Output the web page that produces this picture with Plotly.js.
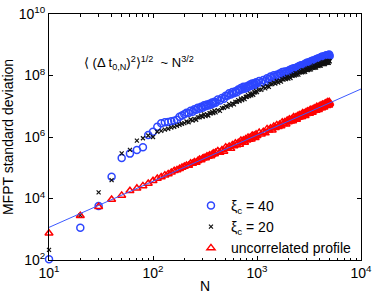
<!DOCTYPE html>
<html>
<head>
<meta charset="utf-8">
<script src="https://cdn.plot.ly/plotly-3.0.1.min.js"></script>
<style>
html,body{margin:0;padding:0;background:#fff;}
#chart{width:374px;height:294px;}
</style>
</head>
<body>
<div id="chart"></div>
<script>
// Chain length N (shared by all three series)
const N = [10,20,30,40,50,60,70,80,90,100,110,120,130,140,150,160,170,180,190,200,
  210,220,230,240,250,260,270,280,290,300,310,320,330,340,350,360,370,380,390,400,
  420,440,460,480,500,520,540,560,580,600,620,640,660,680,700,720,740,760,780,800,
  820,840,860,880,900,920,940,960,980,1000,
  1050,1100,1150,1200,1250,1300,1350,1400,1450,1500,
  1550,1600,1650,1700,1750,1800,1850,1900,1950,2000,
  2050,2100,2150,2200,2250,2300,2350,2400,2450,2500,
  2550,2600,2650,2700,2750,2800,2850,2900,2950,3000,
  3050,3100,3150,3200,3250,3300,3350,3400,3450,3500,
  3550,3600,3650,3700,3750,3800,3850,3900,3950,4000,
  4050,4100,4150,4200,4250,4300,4350,4400,4450,4500,
  4550,4600,4650,4700,4750,4800,4850,4900,4950,5000];

// MFPT standard deviation, xi_c = 40
const sd_xi40 = [1.05e2,1.12e3,5.75e3,5.13e4,2.09e5,2.88e5,3.80e5,4.68e5,1.17e6,1.48e6,
  2.14e6,2.82e6,3.02e6,3.09e6,3.24e6,3.39e6,3.63e6,4.57e6,5.01e6,5.50e6,
  6.17e6,6.03e6,7.16e6,6.61e6,7.94e6,7.76e6,9.02e6,8.32e6,9.55e6,8.91e6,
  1.07e7,1.00e7,1.15e7,1.05e7,1.20e7,1.12e7,1.33e7,1.23e7,1.40e7,1.29e7,
  1.66e7,1.53e7,1.86e7,1.74e7,2.21e7,2.19e7,2.63e7,2.43e7,2.92e7,2.63e7,
  3.09e7,2.85e7,3.51e7,3.31e7,3.89e7,3.55e7,4.27e7,3.72e7,4.32e7,3.89e7,
  4.68e7,4.42e7,5.07e7,4.62e7,5.50e7,4.79e7,5.56e7,4.95e7,6.03e7,5.62e7,
  6.68e7,5.96e7,7.08e7,6.53e7,8.13e7,7.76e7,9.23e7,8.51e7,1.02e8,9.12e7,
  1.06e8,9.55e7,1.17e8,1.12e8,1.29e8,1.15e8,1.36e8,1.20e8,1.38e8,1.23e8,
  1.50e8,1.41e8,1.62e8,1.45e8,1.72e8,1.51e8,1.74e8,1.55e8,1.88e8,1.78e8,
  2.04e8,1.82e8,2.14e8,1.86e8,2.16e8,1.95e8,2.34e8,2.19e8,2.51e8,2.24e8,
  2.63e8,2.29e8,2.63e8,2.34e8,2.79e8,2.57e8,2.95e8,2.63e8,3.09e8,2.69e8,
  3.05e8,2.69e8,3.24e8,3.02e8,3.47e8,3.09e8,3.59e8,3.09e8,3.55e8,3.16e8,
  3.76e8,3.47e8,3.98e8,3.55e8,4.12e8,3.55e8,4.03e8,3.55e8,4.22e8,3.89e8,
  4.42e8,3.89e8,4.52e8,3.89e8,4.42e8,3.89e8,4.62e8,4.27e8,4.84e8,4.27e8];

// MFPT standard deviation, xi_c = 20
const sd_xi20 = [2.14e2,2.82e3,1.58e4,3.98e4,2.95e5,3.80e5,7.59e5,9.12e5,1.12e6,1.00e6,
  1.48e6,1.58e6,1.74e6,1.86e6,2.04e6,2.14e6,2.29e6,2.51e6,2.69e6,2.82e6,
  3.20e6,3.02e6,3.72e6,3.39e6,3.89e6,3.63e6,4.37e6,4.37e6,4.90e6,4.57e6,
  5.43e6,4.79e6,5.43e6,5.01e6,5.96e6,5.89e6,6.53e6,6.03e6,7.16e6,6.31e6,
  7.50e6,7.08e6,8.71e6,8.81e6,1.01e7,9.55e6,1.17e7,1.07e7,1.23e7,1.15e7,
  1.38e7,1.38e7,1.58e7,1.48e7,1.78e7,1.58e7,1.82e7,1.70e7,2.04e7,2.04e7,
  2.29e7,2.14e7,2.57e7,2.26e7,2.57e7,2.37e7,2.82e7,2.82e7,3.13e7,2.88e7,
  3.47e7,3.39e7,4.17e7,3.80e7,4.47e7,4.27e7,5.19e7,5.25e7,5.89e7,5.50e7,
  6.61e7,5.89e7,6.76e7,6.31e7,7.50e7,7.41e7,8.22e7,7.59e7,9.02e7,7.94e7,
  9.02e7,8.32e7,9.89e7,9.77e7,1.08e8,1.00e8,1.19e8,1.05e8,1.17e8,1.07e8,
  1.27e8,1.26e8,1.38e8,1.26e8,1.48e8,1.29e8,1.45e8,1.32e8,1.55e8,1.51e8,
  1.66e8,1.51e8,1.78e8,1.55e8,1.74e8,1.58e8,1.84e8,1.78e8,1.95e8,1.78e8,
  2.09e8,1.82e8,2.02e8,1.82e8,2.14e8,2.09e8,2.26e8,2.04e8,2.40e8,2.09e8,
  2.32e8,2.09e8,2.45e8,2.40e8,2.60e8,2.34e8,2.72e8,2.34e8,2.60e8,2.34e8,
  2.72e8,2.63e8,2.85e8,2.57e8,2.99e8,2.57e8,2.85e8,2.57e8,2.99e8,2.88e8];

// MFPT standard deviation, uncorrelated profile
const sd_uncorr = [7.41e2,2.75e3,5.37e3,9.33e3,1.26e4,1.78e4,2.14e4,2.57e4,3.09e4,3.80e4,
  4.47e4,5.01e4,5.75e4,6.31e4,7.08e4,7.94e4,8.51e4,9.33e4,1.02e5,1.10e5,
  1.18e5,1.18e5,1.39e5,1.38e5,1.54e5,1.49e5,1.68e5,1.86e5,1.79e5,2.02e5,
  2.12e5,2.08e5,2.39e5,2.33e5,2.55e5,2.42e5,2.70e5,2.95e5,2.80e5,3.11e5,
  3.50e5,3.12e5,3.75e5,3.40e5,4.66e5,4.21e5,4.88e5,4.19e5,5.55e5,5.09e5,
  6.28e5,5.48e5,6.46e5,5.75e5,7.72e5,6.85e5,7.83e5,6.63e5,8.67e5,7.85e5,
  9.57e5,8.24e5,9.57e5,8.43e5,1.12e6,9.91e5,1.12e6,9.40e5,1.22e6,1.10e6,
  1.39e6,1.23e6,1.48e6,1.34e6,1.84e6,1.66e6,1.93e6,1.66e6,2.20e6,2.01e6,
  2.48e6,2.17e6,2.54e6,2.26e6,3.05e6,2.71e6,3.09e6,2.62e6,3.43e6,3.10e6,
  3.78e6,3.26e6,3.78e6,3.33e6,4.45e6,3.92e6,4.43e6,3.72e6,4.83e6,4.34e6,
  5.25e6,4.49e6,5.18e6,4.53e6,6.00e6,5.25e6,5.92e6,4.93e6,6.38e6,5.69e6,
  6.85e6,5.84e6,6.71e6,5.85e6,7.73e6,6.74e6,7.54e6,6.26e6,8.07e6,7.18e6,
  8.61e6,7.31e6,8.38e6,7.28e6,9.57e6,8.32e6,9.28e6,7.70e6,9.90e6,8.77e6,
  1.05e7,8.90e6,1.02e7,8.80e6,1.15e7,9.99e6,1.11e7,9.21e6,1.18e7,1.05e7,
  1.25e7,1.06e7,1.20e7,1.04e7,1.37e7,1.18e7,1.32e7,1.08e7,1.39e7,1.23e7];

// N^{3/2} guide line
const fitN = [10, 10000];
const fitV = [1.15e3, 3.64e7];

// Tick labels
const xTickVals = [10, 100, 1000, 10000];
const xTickText = ['10<sup>1</sup>','10<sup>2</sup>','10<sup>3</sup>','10<sup>4</sup>'];
const yTickVals = [1e2, 1e4, 1e6, 1e8, 1e10];
const yTickText = ['10<sup>2</sup>','10<sup>4</sup>','10<sup>6</sup>','10<sup>8</sup>','10<sup>10</sup>'];

const FONT = '"Liberation Sans", Arial, Helvetica, sans-serif';

const traces = [
  {x: N, y: sd_xi40, type: 'scatter', mode: 'markers', name: 'ξ<sub>c</sub> = 40', cliponaxis: false,
   marker: {symbol: 'circle-open', size: 7, color: 'rgb(45,70,255)', line: {width: 1.5, color: 'rgb(45,70,255)'}}},
  {x: N, y: sd_xi20, type: 'scatter', mode: 'markers', name: 'ξ<sub>c</sub> = 20', cliponaxis: false,
   marker: {symbol: 'x-thin', size: 4, color: '#111', line: {width: 1.2, color: '#111'}}},
  {x: N, y: sd_uncorr, type: 'scatter', mode: 'markers', name: 'uncorrelated profile', cliponaxis: false,
   marker: {symbol: 'triangle-up-open', size: 7, color: 'rgb(255,0,0)', line: {width: 1.5, color: 'rgb(255,0,0)'}}},
  {x: fitN, y: fitV, type: 'scatter', mode: 'lines', showlegend: false,
   line: {color: 'rgb(60,90,255)', width: 1}}
];

const layout = {
  width: 374, height: 294,
  margin: {l: 49, r: 13, t: 14, b: 34, pad: 0},
  paper_bgcolor: '#fff', plot_bgcolor: '#fff',
  font: {family: FONT, size: 14, color: '#000'},
  showlegend: true,
  legend: {x: 0.455, y: 0.285, xanchor: 'left', yanchor: 'top', bgcolor: 'rgba(0,0,0,0)',
    font: {family: FONT, size: 14}, tracegroupgap: 0, itemwidth: 30},
  xaxis: {type: 'log', range: [1, 4], tickmode: 'array', tickvals: xTickVals, ticktext: xTickText,
    ticks: 'inside', ticklen: 4, tickwidth: 1, tickcolor: '#000',
    showline: true, linecolor: '#000', linewidth: 1, mirror: 'ticks', showgrid: false, zeroline: false,
    minor: {dtick: 'D1', ticks: 'inside', ticklen: 2.5, tickwidth: 1, tickcolor: '#000', showgrid: false},
    tickfont: {family: FONT, size: 14},
    title: {text: 'N', font: {family: FONT, size: 14}, standoff: 5}},
  yaxis: {type: 'log', range: [2, 10], tickmode: 'array', tickvals: yTickVals, ticktext: yTickText,
    ticks: 'inside', ticklen: 4, tickwidth: 1, tickcolor: '#000',
    showline: true, linecolor: '#000', linewidth: 1, mirror: 'ticks', showgrid: false, zeroline: false,
    tickfont: {family: FONT, size: 14},
    title: {text: 'MFPT standard deviation', font: {family: FONT, size: 14}, standoff: 4}},
  annotations: [{
    xref: 'paper', yref: 'paper', x: 0.105, y: 0.80, xanchor: 'left', yanchor: 'middle', showarrow: false,
    text: '⟨ (Δ t<sub>0,N</sub>)<sup>2</sup>⟩<sup>1/2</sup>  ~ N<sup>3/2</sup>',
    font: {family: FONT, size: 13, color: '#000'}
  }]
};

Plotly.newPlot('chart', traces, layout, {displayModeBar: false, staticPlot: true});
</script>
</body>
</html>
